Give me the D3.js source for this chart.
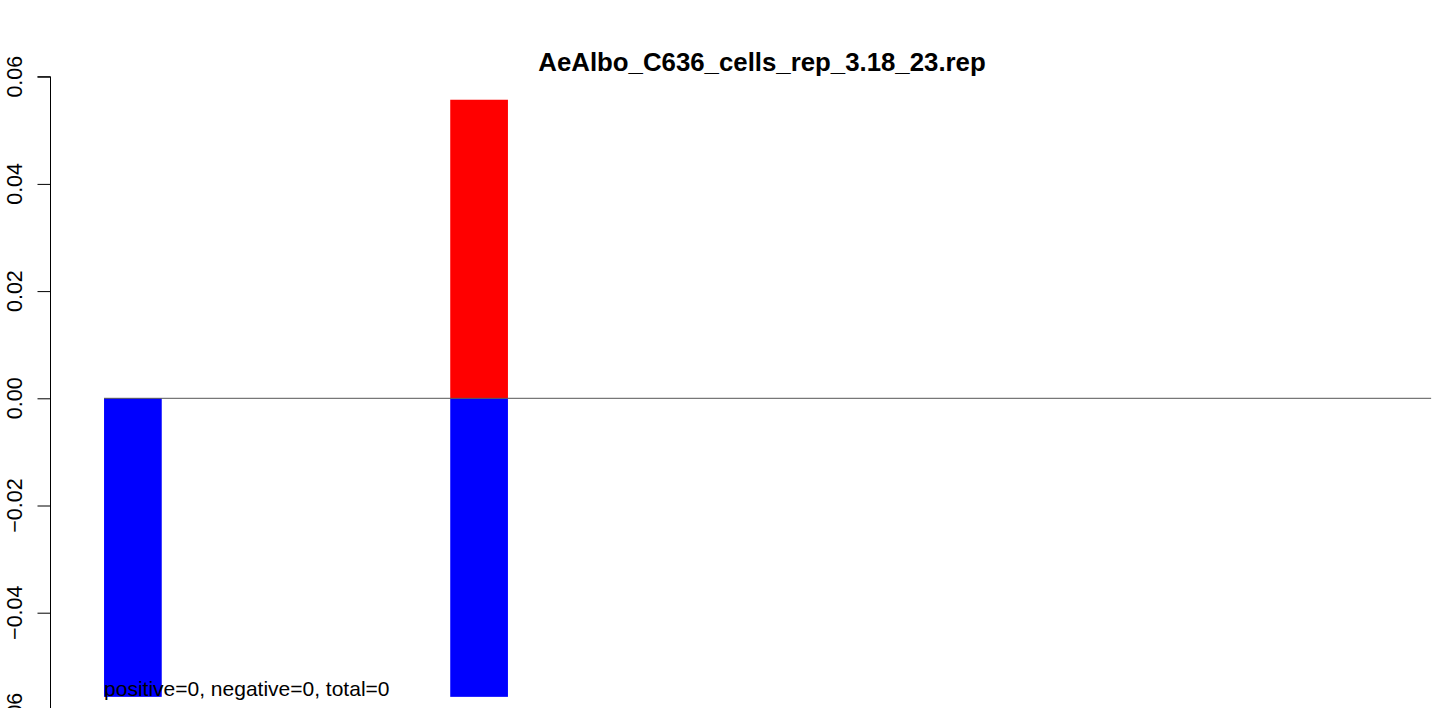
<!DOCTYPE html>
<html>
<head>
<meta charset="utf-8">
<script src="https://cdn.jsdelivr.net/npm/d3@7"></script>
<style>
html,body{margin:0;padding:0;background:#fff;overflow:hidden;}
svg{display:block;font-family:"Liberation Sans",Arial,sans-serif;}
</style>
</head>
<body>
<svg id="chart" width="1452" height="708"></svg>
<script>
// ---- data ----
const title = "AeAlbo_C636_cells_rep_3.18_23.rep";
const barSlots = [1, 6];                 // bar position (1-based, R barplot slots)
const positiveValues = [0, 0.0557];
const negativeValues = [-0.0557, -0.0557];
const yTicks = [-0.06, -0.04, -0.02, 0.00, 0.02, 0.04, 0.06];
const yTickLabels = ["\u22120.06", "\u22120.04", "\u22120.02", "0.00", "0.02", "0.04", "0.06"];
const baselineSpan = [0.2, 23.2];        // extent of the zero line in bar units
const footnote = "positive=0, negative=0, total=0";

// ---- layout ----
const svg = d3.select("#chart");
const x = d3.scaleLinear().domain([0, 24]).range([92.5, 92.5 + 57.7 * 24]);
const y = d3.scaleLinear().domain([-0.06, 0.06]).range([719.9, 76.7]);
const space = 0.2, width = 1;
const slotStart = i => space + (width + space) * (i - 1);

// negative bars (blue)
svg.append("g").selectAll("rect.neg").data(barSlots).join("rect")
  .attr("x", d => x(slotStart(d)))
  .attr("width", d => x(slotStart(d) + width) - x(slotStart(d)))
  .attr("y", y(0))
  .attr("height", (d, i) => y(negativeValues[i]) - y(0))
  .attr("fill", "#0000ff");

// positive bars (red)
svg.append("g").selectAll("rect.pos").data(barSlots).join("rect")
  .attr("x", d => x(slotStart(d)))
  .attr("width", d => x(slotStart(d) + width) - x(slotStart(d)))
  .attr("y", (d, i) => y(positiveValues[i]))
  .attr("height", (d, i) => y(0) - y(positiveValues[i]))
  .attr("fill", "#ff0000");

// zero line
svg.append("line")
  .attr("x1", x(baselineSpan[0])).attr("x2", x(baselineSpan[1]))
  .attr("y1", y(0)).attr("y2", y(0))
  .attr("stroke", "#555").attr("stroke-width", 1);

// y axis
const axisG = svg.append("g").attr("transform", "translate(50.5,0)");
axisG.call(d3.axisLeft(y).tickValues(yTicks).tickSize(13).tickFormat(""))
  .call(g => g.select(".domain").attr("d", `M-13,${y(0.06)}H0V${y(-0.06)}`))
  .call(g => g.selectAll("path,line").attr("stroke", "#000").attr("stroke-width", 1));
axisG.selectAll(".tick text").remove();
svg.append("g").selectAll("text").data(yTicks).join("text")
  .attr("transform", d => `translate(21.5,${y(d)}) rotate(-90)`)
  .attr("text-anchor", "middle")
  .attr("font-size", 21.5)
  .attr("fill", "#000")
  .text((d, i) => yTickLabels[i]);

// title
svg.append("text")
  .attr("x", 762).attr("y", 71)
  .attr("text-anchor", "middle")
  .attr("font-size", 25.8).attr("font-weight", "bold")
  .text(title);

// footnote
svg.append("text")
  .attr("x", x(slotStart(barSlots[0]))).attr("y", 696)
  .attr("font-size", 21)
  .text(footnote);
</script>
</body>
</html>
